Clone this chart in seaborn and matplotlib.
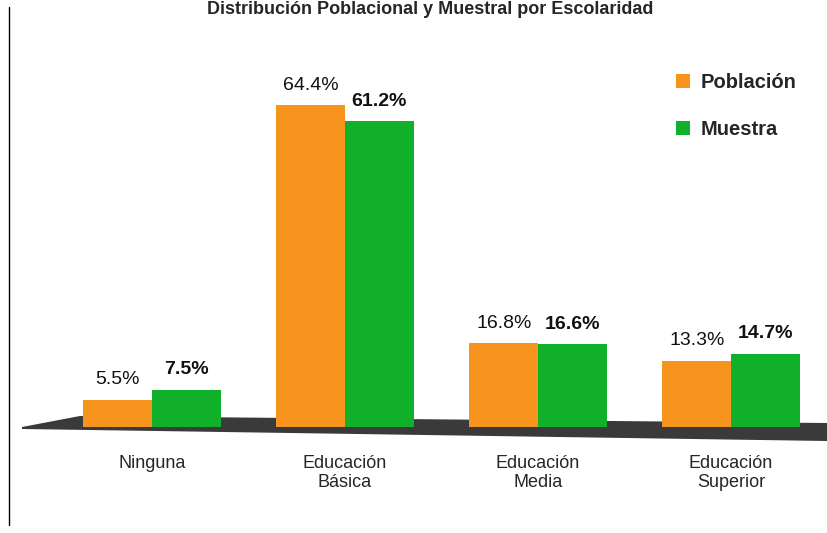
import matplotlib
matplotlib.use("Agg")
import matplotlib.pyplot as plt
from matplotlib.patches import Polygon
from matplotlib.lines import Line2D
import seaborn as sns
import pandas as pd

categories = ["Ninguna", "Educación\nBásica", "Educación\nMedia", "Educación\nSuperior"]
poblacion = [5.5, 64.4, 16.8, 13.3]
muestra = [7.5, 61.2, 16.6, 14.7]
series = ["Población", "Muestra"]
title = "Distribución Poblacional y Muestral por Escolaridad"

df = pd.DataFrame({
    "cat": categories * 2,
    "serie": [series[0]] * len(categories) + [series[1]] * len(categories),
    "valor": poblacion + muestra,
})

sns.set_style("white")
plt.rcParams["font.family"] = ["Liberation Sans", "DejaVu Sans"]

W, H = 827, 533
fig = plt.figure(figsize=(W / 100, H / 100), dpi=100)
ax_l, ax_r, ax_t, ax_b = 20, 827, 20, 427
ax = fig.add_axes([ax_l / W, (H - ax_b) / H, (ax_r - ax_l) / W, (ax_b - ax_t) / H])

palette = {"Población": "#F7941D", "Muestra": "#10B02A"}
sns.barplot(data=df, x="cat", y="valor", hue="serie", palette=palette,
            width=0.71, ax=ax, saturation=1, legend=True, zorder=3,
            edgecolor="none")

ax.set_xlim((ax_l - 152) / 193, (ax_r - 152) / 193)
ax.set_ylim(0, (ax_b - ax_t) / 5.0)

# floor decoration (axes fraction)
def fr(px, py):
    return ((px - ax_l) / (ax_r - ax_l), (ax_b - py) / (ax_b - ax_t))
floor = Polygon([fr(22, 427), fr(80, 416), fr(827, 423), fr(827, 441), fr(22, 429)],
                closed=True, transform=ax.transAxes, facecolor="#3a3a3a",
                edgecolor="none", clip_on=False, zorder=1)
ax.add_patch(floor)

for i, cont in enumerate(ax.containers):
    ax.bar_label(cont, fmt="%.1f%%", padding=8, fontsize=14,
                 fontweight="bold" if i == 1 else "normal", color="#111111")

ax.set_xlabel("")
ax.set_ylabel("")
ax.set_yticks([])
ax.tick_params(axis="x", length=0, pad=20, labelsize=13)
for s in ax.spines.values():
    s.set_visible(False)

leg = ax.legend(loc="upper left", bbox_to_anchor=fr(658, 55), frameon=False,
                handlelength=0.7, handleheight=0.7, handletextpad=0.5,
                labelspacing=1.4, prop={"weight": "bold", "size": 14.5})

fig.text(430 / W, 1 - 1 / H, title, ha="center", va="top", fontsize=13,
         fontweight="bold")
fig.add_artist(Line2D([9 / W, 9 / W], [1 - 7 / H, 1 - 525 / H], color="black",
                      linewidth=1, transform=fig.transFigure))

fig.savefig("out.png", dpi=100, facecolor="white")
